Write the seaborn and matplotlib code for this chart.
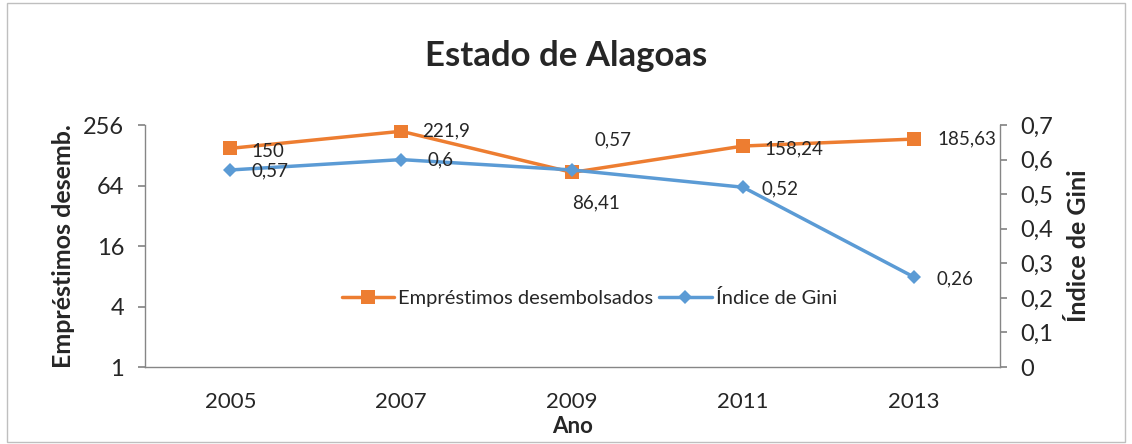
import matplotlib
matplotlib.use("Agg")
import matplotlib.pyplot as plt
import matplotlib.patches as mpatches
import seaborn as sns
import pandas as pd

anos = ["2005", "2007", "2009", "2011", "2013"]
emprestimos = [150, 221.9, 86.41, 158.24, 185.63]
gini = [0.57, 0.6, 0.57, 0.52, 0.26]

laranja = "#ED7D31"
azul = "#5B9BD5"
cinza = "#868686"

sns.set_theme(style="white")
plt.rcParams["font.family"] = ["Lato", "DejaVu Sans"]

df = pd.DataFrame({"ano": anos, "emp": emprestimos, "gini": gini})
df["x"] = range(len(anos))

fig = plt.figure(figsize=(11.32, 4.44), dpi=100)
ax = fig.add_axes([0.128, 0.1734, 0.755, 0.545])
ax2 = ax.twinx()

sns.lineplot(data=df, x="x", y="emp", ax=ax, color=laranja, lw=2.5,
             marker="s", markersize=10, markeredgewidth=0,
             label="Empréstimos desembolsados", legend=False)
sns.lineplot(data=df, x="x", y="gini", ax=ax2, color=azul, lw=2.5,
             marker="D", markersize=7.5, markeredgewidth=0,
             label="Índice de Gini", legend=False)

ax.set_yscale("log", base=2)
ax.set_ylim(1, 256)
ax.set_yticks([1, 4, 16, 64, 256])
ax.set_yticklabels(["1", "4", "16", "64", "256"])
ax.minorticks_off()
ax.set_xlim(-0.5, len(anos) - 0.5)
ax.set_xticks(df["x"])
ax.set_xticklabels(anos)
ax.set_xticks([i - 0.5 for i in range(len(anos) + 1)], minor=True)
ax.tick_params(axis="x", which="major", length=0, pad=18, labelsize=16)
ax.tick_params(axis="x", which="minor", length=5, color=cinza, direction="out")
ax.tick_params(axis="y", length=5, color=cinza, labelsize=17, direction="out",
               left=True, pad=10)

ax2.set_ylim(0, 0.7)
ticks2 = [i / 10 for i in range(8)]
ax2.set_yticks(ticks2)
ax2.set_yticklabels([("%.1f" % t).replace(".", ",") if t else "0" for t in ticks2])
ax2.tick_params(axis="y", length=5, color=cinza, labelsize=17, direction="out",
                right=True, pad=10)

for a in (ax, ax2):
    for s in a.spines.values():
        s.set_visible(False)
ax.spines["left"].set_visible(True)
ax.spines["bottom"].set_visible(True)
ax2.spines["right"].set_visible(True)
for s in (ax.spines["left"], ax.spines["bottom"], ax2.spines["right"]):
    s.set_color(cinza)
    s.set_linewidth(1)
ax.grid(False)
ax2.grid(False)

ax.set_xlabel("Ano", fontsize=16, fontweight="bold", labelpad=3)
ax.set_ylabel("Empréstimos desemb.", fontsize=18, fontweight="bold", labelpad=6)
ax2.set_ylabel("Índice de Gini", fontsize=18, fontweight="bold", labelpad=10)
fig.text(0.5, 0.875, "Estado de Alagoas", ha="center", va="center",
         fontsize=25, fontweight="bold")

fmt = lambda v: ("%g" % v).replace(".", ",")
emp_off = [(15, -2), (15, 0), (0, -22), (15, -2), (17, 0)]
for i, v in enumerate(emprestimos):
    dx, dy = emp_off[i]
    ax.annotate(fmt(v), (i, v), xytext=(dx, dy), textcoords="offset points",
                ha="left", va="center", fontsize=13.5)
gini_off = [(15, -1), (19, 0), (16, 22), (13, -1), (16, -1)]
for i, v in enumerate(gini):
    dx, dy = gini_off[i]
    ax2.annotate(fmt(v), (i, v), xytext=(dx, dy), textcoords="offset points",
                 ha="left", va="center", fontsize=13.5)

h1, l1 = ax.get_legend_handles_labels()
h2, l2 = ax2.get_legend_handles_labels()
ax.legend(h1 + h2, l1 + l2, loc="center", bbox_to_anchor=(0.52, 0.285),
          ncol=2, frameon=False, fontsize=14.5, handlelength=2.6,
          columnspacing=0.3, handletextpad=0.2)

fig.add_artist(mpatches.Rectangle((0.006, 0.004), 0.988, 0.99,
                                  transform=fig.transFigure, fill=False,
                                  edgecolor="#BFBFBF", lw=1))

fig.savefig("out.png", dpi=100)
